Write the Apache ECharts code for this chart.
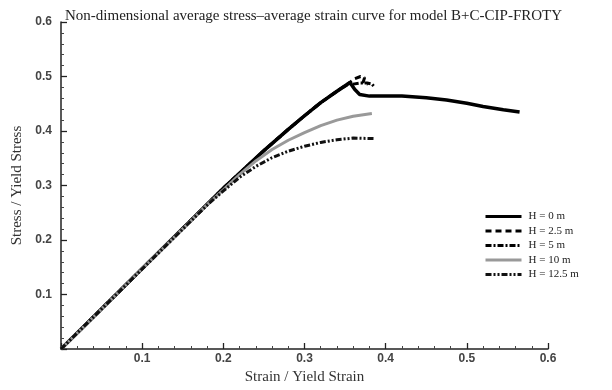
<!DOCTYPE html>
<html><head><meta charset="utf-8">
<script src="https://cdn.jsdelivr.net/npm/echarts@6/dist/echarts.min.js"></script>
<style>html,body{margin:0;padding:0;background:#fff}#c{width:612px;height:390px}</style>
</head><body><div id="c"></div>
<script>
const titleText = 'Non-dimensional average stress\u2013average strain curve for model B+C-CIP-FROTY';
const xName = 'Strain / Yield Strain';
const yName = 'Stress / Yield Stress';
const seriesNames = ['H = 0 m', 'H = 2.5 m', 'H = 5 m', 'H = 10 m', 'H = 12.5 m'];
const h0 = [[0,0],[0.2,0.295],[0.25,0.364],[0.28,0.403],[0.3,0.428],[0.32,0.452],[0.34,0.473],[0.356,0.489],[0.362,0.476],[0.368,0.467],[0.38,0.464],[0.42,0.464],[0.45,0.461],[0.475,0.457],[0.5,0.451],[0.52,0.445],[0.545,0.439],[0.565,0.435]];
const h25 = [[0,0],[0.2,0.295],[0.25,0.364],[0.28,0.403],[0.3,0.428],[0.32,0.452],[0.34,0.473],[0.355,0.488],[0.362,0.496],[0.369,0.5],[0.374,0.498],[0.372,0.488],[0.378,0.486]];
const h5 = [[0,0],[0.2,0.295],[0.25,0.364],[0.28,0.403],[0.3,0.428],[0.32,0.452],[0.34,0.473],[0.355,0.487],[0.36,0.486],[0.368,0.488],[0.377,0.488],[0.383,0.486],[0.386,0.481]];
const h10 = [[0,0],[0.18,0.265],[0.2,0.292],[0.22,0.32],[0.24,0.345],[0.26,0.366],[0.28,0.383],[0.3,0.397],[0.32,0.41],[0.34,0.42],[0.36,0.427],[0.383,0.432]];
const h125 = [[0,0],[0.18,0.264],[0.2,0.29],[0.22,0.315],[0.24,0.335],[0.26,0.351],[0.28,0.363],[0.3,0.372],[0.32,0.379],[0.34,0.384],[0.36,0.387],[0.387,0.386]];
const seriesData = [h0, h25, h5, h10, h125];
const styles = [
  {color:'#000', width:3.5, type:'solid'},
  {color:'#000', width:3, type:[6,4]},
  {color:'#000', width:3, type:[6,2,2,2]},
  {color:'#999', width:3, type:'solid'},
  {color:'#111', width:3, type:[6,2,2,2,2,2]}
];
const chart = echarts.init(document.getElementById('c'));
const fmt = v => v === 0 ? '' : v.toFixed(1);
chart.setOption({
  animation:false,
  title:{text:titleText,left:60,top:4,textStyle:{fontFamily:'Liberation Serif',fontSize:15,fontWeight:'normal',color:'#222'}},
  grid:{left:61,right:64,top:22,bottom:34},
  legend:{orient:'vertical',left:479,top:206,itemWidth:36,itemHeight:12,itemGap:3.5,
    itemStyle:{opacity:0},lineStyle:{width:3},
    data:seriesNames,textStyle:{fontFamily:'Liberation Serif',fontSize:11,color:'#222',padding:[0,0,0,2]}},
  xAxis:{type:'value',min:0,max:0.6,interval:0.1,name:xName,nameLocation:'middle',nameGap:21,
    nameTextStyle:{fontFamily:'Liberation Serif',fontSize:15,color:'#333'},
    axisLine:{lineStyle:{color:'#222',width:1.5}},
    axisTick:{inside:true,length:6,lineStyle:{color:'#222',width:1.3}},
    minorTick:{show:true,splitNumber:5,length:3,lineStyle:{color:'#444'}},
    splitLine:{show:false},
    axisLabel:{formatter:fmt,margin:4,fontFamily:'Liberation Sans',fontSize:12,fontWeight:'bold',color:'#444'}},
  yAxis:{type:'value',min:0,max:0.6,interval:0.1,name:yName,nameLocation:'middle',nameGap:36,
    nameTextStyle:{fontFamily:'Liberation Serif',fontSize:15,color:'#333'},
    axisLine:{show:true,lineStyle:{color:'#222',width:1.5}},
    axisTick:{show:true,inside:true,length:6,lineStyle:{color:'#222',width:1.3}},
    minorTick:{show:true,splitNumber:5,length:3,lineStyle:{color:'#444'}},
    splitLine:{show:false},
    axisLabel:{formatter:fmt,margin:9,fontFamily:'Liberation Sans',fontSize:12,fontWeight:'bold',color:'#444'}},
  series: seriesNames.map((n,i)=>({
    name:n,type:'line',data:seriesData[i],showSymbol:false,symbol:'none',
    lineStyle:{color:styles[i].color,width:styles[i].width,type:styles[i].type},
    itemStyle:{color:styles[i].color}
  }))
});
</script></body></html>
